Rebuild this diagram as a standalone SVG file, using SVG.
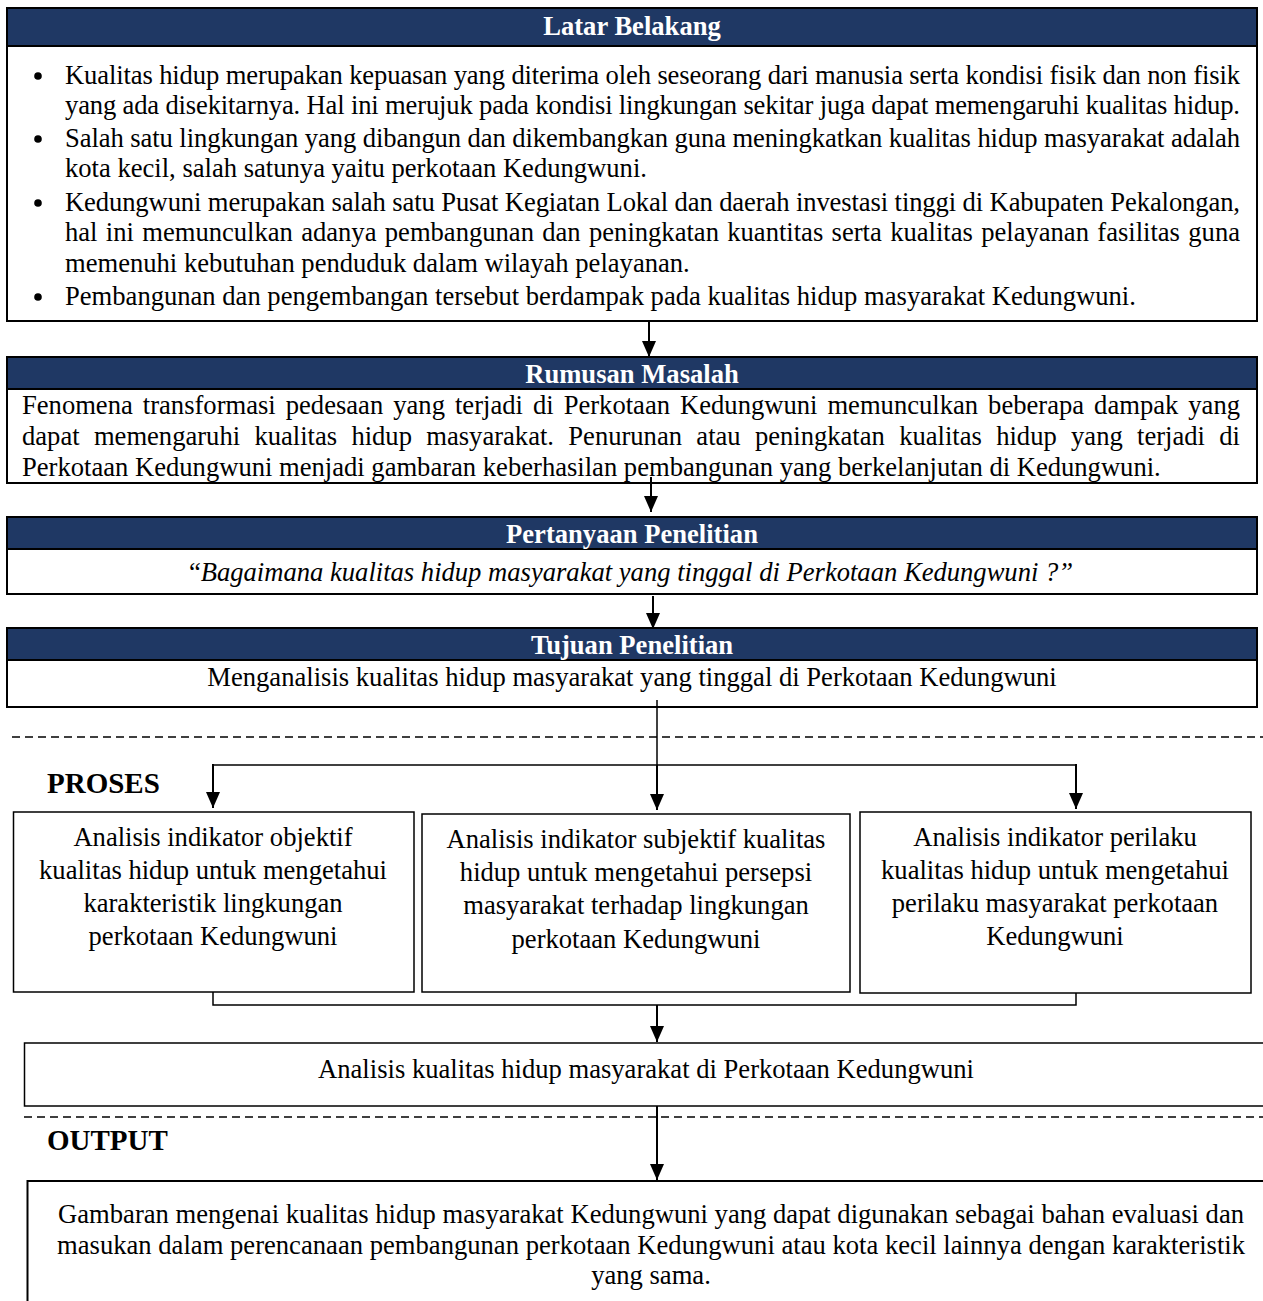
<svg xmlns="http://www.w3.org/2000/svg" width="1263" height="1301" viewBox="0 0 1263 1301">
<style>
.bg{fill:#fff}
.hdr{fill:#1F3864;stroke:#000;stroke-width:2}
.box{fill:#fff;stroke:#000;stroke-width:2}
.pbox{fill:#fff;stroke:#000;stroke-width:1.5}
.t{font-family:"Liberation Serif","Times New Roman",serif;font-size:26.6px;fill:#000}
.hb{font-weight:bold;fill:#fff;text-anchor:middle}
.c{text-anchor:middle}
.lbl{font-family:"Liberation Serif","Times New Roman",serif;font-size:29px;font-weight:bold;fill:#000}
.conn{stroke:#000;stroke-width:2;fill:none}
.thin{stroke:#000;stroke-width:1.5;fill:none}
.dash{stroke:#000;stroke-width:1.3;stroke-dasharray:8 5;fill:none}
.dot{fill:#000}
</style>
<defs>
<marker id="ah" markerUnits="userSpaceOnUse" markerWidth="16" markerHeight="14" viewBox="0 0 16 14" refX="16" refY="7" orient="auto">
<path d="M0,0 L16,7 L0,14 z" fill="#000"/>
</marker>
</defs>
<rect class="bg" x="0" y="0" width="1263" height="1301"/>

<g id="latar-belakang">
<rect class="box" x="7" y="8" width="1250" height="313"/>
<rect class="hdr" x="7" y="8" width="1250" height="38"/>
<text class="t hb" x="632" y="35">Latar Belakang</text>
<circle class="dot" cx="38" cy="76" r="3.8"/>
<circle class="dot" cx="38" cy="139" r="3.8"/>
<circle class="dot" cx="38" cy="203" r="3.8"/>
<circle class="dot" cx="38" cy="297" r="3.8"/>
<text class="t" x="65" y="84" textLength="1175" lengthAdjust="spacing">Kualitas hidup merupakan kepuasan yang diterima oleh seseorang dari manusia serta kondisi fisik dan non fisik</text>
<text class="t" x="65" y="114" textLength="1175" lengthAdjust="spacing">yang ada disekitarnya. Hal ini merujuk pada kondisi lingkungan sekitar juga dapat memengaruhi kualitas hidup.</text>
<text class="t" x="65" y="147" textLength="1175" lengthAdjust="spacing">Salah satu lingkungan yang dibangun dan dikembangkan guna meningkatkan kualitas hidup masyarakat adalah</text>
<text class="t" x="65" y="177">kota kecil, salah satunya yaitu perkotaan Kedungwuni.</text>
<text class="t" x="65" y="211" textLength="1175" lengthAdjust="spacing">Kedungwuni merupakan salah satu Pusat Kegiatan Lokal dan daerah investasi tinggi di Kabupaten Pekalongan,</text>
<text class="t" x="65" y="241" word-spacing="1.7" textLength="1175" lengthAdjust="spacing">hal ini memunculkan adanya pembangunan dan peningkatan kuantitas serta kualitas pelayanan fasilitas guna</text>
<text class="t" x="65" y="272">memenuhi kebutuhan penduduk dalam wilayah pelayanan.</text>
<text class="t" x="65" y="305">Pembangunan dan pengembangan tersebut berdampak pada kualitas hidup masyarakat Kedungwuni.</text>
</g>

<g id="rumusan-masalah">
<rect class="box" x="7" y="357" width="1250" height="126"/>
<rect class="hdr" x="7" y="357" width="1250" height="32"/>
<text class="t hb" x="632" y="383">Rumusan Masalah</text>
<text class="t" x="22" y="414" word-spacing="3.4" textLength="1218" lengthAdjust="spacing">Fenomena transformasi pedesaan yang terjadi di Perkotaan Kedungwuni memunculkan beberapa dampak yang</text>
<text class="t" x="22" y="445" word-spacing="7.7" textLength="1218" lengthAdjust="spacing">dapat memengaruhi kualitas hidup masyarakat. Penurunan atau peningkatan kualitas hidup yang terjadi di</text>
<text class="t" x="22" y="476">Perkotaan Kedungwuni menjadi gambaran keberhasilan pembangunan yang berkelanjutan di Kedungwuni.</text>
</g>

<g id="pertanyaan-penelitian">
<rect class="box" x="7" y="517" width="1250" height="77"/>
<rect class="hdr" x="7" y="517" width="1250" height="32"/>
<text class="t hb" x="632" y="543">Pertanyaan Penelitian</text>
<text class="t c" x="631" y="581">“<tspan font-style="italic">Bagaimana kualitas hidup masyarakat yang tinggal di Perkotaan Kedungwuni ?”</tspan></text>
</g>

<g id="tujuan-penelitian">
<rect class="box" x="7" y="628" width="1250" height="79"/>
<rect class="hdr" x="7" y="628" width="1250" height="32"/>
<text class="t hb" x="632" y="654">Tujuan Penelitian</text>
<text class="t c" x="632" y="686">Menganalisis kualitas hidup masyarakat yang tinggal di Perkotaan Kedungwuni</text>
</g>

<g id="section-labels">
<line class="dash" x1="12" y1="737" x2="1263" y2="737"/>
<text class="lbl" x="47" y="793">PROSES</text>
<line class="dash" x1="24" y1="1117" x2="1263" y2="1117"/>
<text class="lbl" x="47" y="1150">OUTPUT</text>
</g>

<g id="indikator-objektif">
<rect class="pbox" x="13.5" y="812" width="400.5" height="180"/>
<text class="t c" x="213" y="846">Analisis indikator objektif</text>
<text class="t c" x="213" y="879">kualitas hidup untuk mengetahui</text>
<text class="t c" x="213" y="912">karakteristik lingkungan</text>
<text class="t c" x="213" y="945">perkotaan Kedungwuni</text>
</g>

<g id="indikator-subjektif">
<rect class="pbox" x="422" y="814" width="428" height="178"/>
<text class="t c" x="636" y="848">Analisis indikator subjektif kualitas</text>
<text class="t c" x="636" y="881">hidup untuk mengetahui persepsi</text>
<text class="t c" x="636" y="914">masyarakat terhadap lingkungan</text>
<text class="t c" x="636" y="948">perkotaan Kedungwuni</text>
</g>

<g id="indikator-perilaku">
<rect class="pbox" x="860" y="812" width="391" height="181"/>
<text class="t c" x="1055" y="846">Analisis indikator perilaku</text>
<text class="t c" x="1055" y="879">kualitas hidup untuk mengetahui</text>
<text class="t c" x="1055" y="912">perilaku masyarakat perkotaan</text>
<text class="t c" x="1055" y="945">Kedungwuni</text>
</g>

<g id="analisis-kualitas">
<rect class="pbox" x="24.5" y="1043" width="1250" height="63"/>
<text class="t c" x="646" y="1078">Analisis kualitas hidup masyarakat di Perkotaan Kedungwuni</text>
</g>

<g id="output">
<rect class="box" x="27.5" y="1181" width="1250" height="140" stroke-width="2.5"/>
<text class="t c" x="651" y="1223" textLength="1186" lengthAdjust="spacing">Gambaran mengenai kualitas hidup masyarakat Kedungwuni yang dapat digunakan sebagai bahan evaluasi dan</text>
<text class="t c" x="651" y="1254" textLength="1188" lengthAdjust="spacing">masukan dalam perencanaan pembangunan perkotaan Kedungwuni atau kota kecil lainnya dengan karakteristik</text>
<text class="t c" x="651" y="1284">yang sama.</text>
</g>

<g id="connectors">
<line class="conn" x1="649" y1="322" x2="649" y2="357" marker-end="url(#ah)"/>
<line class="conn" x1="651" y1="477" x2="651" y2="512" marker-end="url(#ah)"/>
<line class="conn" x1="653" y1="596" x2="653" y2="629" marker-end="url(#ah)"/>
<line class="thin" x1="657" y1="700" x2="657" y2="765"/>
<line class="conn" x1="657" y1="765" x2="657" y2="810" marker-end="url(#ah)"/>
<line class="thin" x1="213" y1="765" x2="1076" y2="765"/>
<line class="conn" x1="213" y1="764" x2="213" y2="808" marker-end="url(#ah)"/>
<line class="conn" x1="1076" y1="764" x2="1076" y2="809" marker-end="url(#ah)"/>
<path class="thin" d="M213,992 V1005 H1076 V993"/>
<line class="conn" x1="657" y1="1005" x2="657" y2="1042" marker-end="url(#ah)"/>
<line class="conn" x1="657" y1="1106" x2="657" y2="1180" marker-end="url(#ah)"/>
</g>
</svg>
